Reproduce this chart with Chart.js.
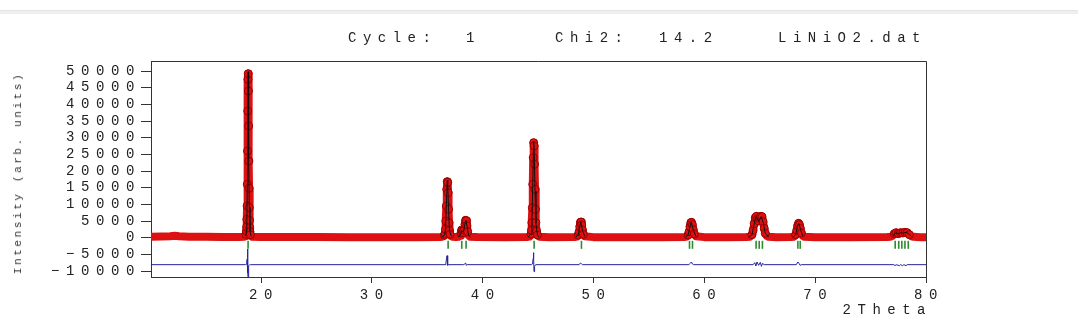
<!DOCTYPE html>
<html><head><meta charset="utf-8">
<script src="https://cdn.jsdelivr.net/npm/chart.js@4.4.1/dist/chart.umd.min.js"></script>
<style>
html,body{margin:0;padding:0;background:#fff;}
#wrap{position:relative;width:1080px;height:321px;overflow:hidden;background:#fff;}
#c{position:absolute;left:0;top:0;}
.t{position:absolute;font-family:"Liberation Mono",monospace;color:#222;white-space:pre;font-size:14px;line-height:16px;letter-spacing:6.5px;}
#bar{position:absolute;left:0;top:10px;width:1078px;height:3px;background:#efefef;border-top:1px solid #e4e4e4;}
#ytitle{position:absolute;left:18px;top:173px;transform:translate(-50%,-50%) rotate(-90deg);font-family:"Liberation Mono",monospace;font-size:11px;line-height:12px;letter-spacing:2.6px;color:#333;white-space:pre;}
</style></head><body>
<div id="wrap">
<div id="bar"></div>
<canvas id="c" width="1080" height="321"></canvas>
<div class="t" style="left:348px;top:30px">Cycle:</div>
<div class="t" style="left:466px;top:30px">1</div>
<div class="t" style="left:555px;top:30px">Chi2:</div>
<div class="t" style="left:659px;top:30px">14.2</div>
<div class="t" style="left:778px;top:30px">LiNiO2.dat</div>
<div class="t" style="right:148px;top:302px">2Theta</div>
<div id="ytitle">Intensity (arb. units)</div>
</div>
<script>
// ---- data ----
const obsTheta = [
10.07, 11.0, 11.8, 12.2, 12.6, 13.5, 15.0, 16.5, 18.0, 18.5,
18.56, 18.60, 18.64, 18.68, 18.70, 18.72, 18.74, 18.76, 18.78, 18.80, 18.82, 18.84, 18.86, 18.88, 18.90, 18.92, 18.94, 18.96, 18.98, 19.00, 19.04, 19.10, 19.20,
20.0, 22.0, 25.0, 28.0, 31.0, 34.0, 36.2,
36.40, 36.50, 36.56, 36.60, 36.64, 36.68, 36.72, 36.76, 36.80, 36.84, 36.88, 36.92, 36.96, 37.00, 37.06, 37.16, 37.30,
37.60,
37.80, 37.96, 38.04, 38.10, 38.16, 38.24, 38.32, 38.40, 38.46, 38.52, 38.58, 38.64, 38.72, 38.86,
39.5, 42.0, 44.0,
44.20, 44.30, 44.36, 44.40, 44.44, 44.48, 44.52, 44.56, 44.60, 44.64, 44.68, 44.72, 44.76, 44.80, 44.86, 44.94, 45.10,
46.0, 48.3,
48.50, 48.62, 48.70, 48.76, 48.82, 48.88, 48.94, 49.00, 49.08, 49.20,
50.0, 53.0, 56.0, 58.2,
58.40, 58.54, 58.62, 58.70, 58.78, 58.84, 58.92, 59.00, 59.10, 59.24,
60.0, 62.0, 63.8,
64.10, 64.30, 64.40, 64.50, 64.60, 64.70, 64.80, 64.90, 65.00, 65.10, 65.20, 65.30, 65.40, 65.50, 65.64, 65.80,
66.5, 67.8,
68.10, 68.24, 68.34, 68.42, 68.50, 68.58, 68.66, 68.76, 68.88, 69.04,
70.0, 73.0, 76.5,
76.80, 77.00, 77.14, 77.30, 77.50, 77.70, 77.90, 78.10, 78.30, 78.50, 78.70, 78.90,
79.5, 80.0
];
const obsInt = [
300, 350, 450, 550, 400, 300, 250, 200, 200, 250,
400, 600, 1000, 2000, 3200, 5500, 9500, 16000, 26000, 38000, 47500, 49200, 44000, 33500, 23000, 14800, 9000, 5200, 3000, 1800, 900, 450, 250,
200, 180, 170, 160, 160, 150, 200,
300, 500, 800, 1300, 2500, 5000, 9500, 14500, 16800, 16600, 13500, 8500, 4500, 2200, 1000, 450, 250,
200,
250, 600, 1400, 2300, 2000, 1500, 2200, 4000, 5200, 5100, 3600, 1800, 700, 300,
170, 160, 200,
300, 600, 1100, 2200, 4500, 9000, 16000, 24000, 28500, 27500, 22000, 14500, 8500, 4500, 2000, 800, 300,
160, 200,
300, 800, 1800, 3300, 4600, 4700, 3800, 2300, 1000, 400,
160, 150, 150, 200,
300, 800, 1800, 3300, 4500, 4600, 3900, 2400, 1100, 400,
160, 150, 200,
300, 900, 2200, 4200, 6000, 6400, 5600, 5000, 5700, 6400, 6300, 4800, 2800, 1300, 500, 250,
160, 200,
300, 900, 2200, 3600, 4300, 3900, 2800, 1400, 500, 250,
160, 150, 200,
250, 600, 1200, 1500, 1200, 1500, 1400, 1600, 1500, 900, 400, 250,
150, 150
];
const calcTheta = [
10.07, 18.4, 18.60, 18.68, 18.72, 18.76, 18.80, 18.83, 18.86, 18.90, 18.94, 19.00, 19.10, 19.3,
36.3, 36.56, 36.64, 36.72, 36.80, 36.84, 36.92, 37.00, 37.16, 37.4,
37.8, 38.04, 38.10, 38.24, 38.40, 38.48, 38.58, 38.72, 38.9,
44.1, 44.36, 44.44, 44.52, 44.60, 44.64, 44.72, 44.80, 44.94, 45.1,
48.4, 48.62, 48.76, 48.86, 49.00, 49.20, 49.4,
58.3, 58.54, 58.70, 58.82, 59.00, 59.24, 59.4,
64.0, 64.30, 64.50, 64.66, 64.90, 65.12, 65.30, 65.50, 65.80,
68.0, 68.24, 68.42, 68.52, 68.66, 68.88, 69.1,
76.8, 77.00, 77.30, 77.50, 77.70, 77.90, 78.10, 78.30, 78.70, 79.0, 80.0
];
const calcInt = [
200, 200, 500, 1900, 5200, 15500, 37500, 49800, 44500, 23500, 9200, 1900, 450, 200,
150, 800, 2600, 9800, 17200, 16300, 8200, 2100, 450, 150,
150, 1300, 2200, 1600, 4100, 5300, 3500, 700, 150,
150, 1200, 4700, 16500, 28800, 27000, 14000, 4300, 800, 150,
150, 800, 3400, 4800, 2200, 400, 150,
150, 800, 3400, 4700, 2300, 400, 150,
150, 900, 4300, 6300, 4900, 6300, 4700, 1300, 250,
150, 900, 3700, 4300, 2700, 500, 150,
150, 600, 1500, 1150, 1450, 1350, 1550, 1450, 400, 150, 150
];
const diffTheta = [
10.07, 18.60, 18.70, 18.74, 18.77, 18.80, 18.82, 18.84, 18.86, 18.90, 18.96, 19.06,
36.60, 36.68, 36.74, 36.78, 36.82, 36.86, 36.92,
38.30, 38.40, 38.46, 38.52, 38.60,
44.40, 44.50, 44.55, 44.58, 44.61, 44.63, 44.66, 44.70, 44.78,
48.70, 48.82, 48.90, 49.00,
58.60, 58.76, 58.84, 58.92, 59.02,
64.40, 64.55, 64.65, 64.75, 64.90, 65.05, 65.15, 65.25, 65.40,
68.30, 68.44, 68.54, 68.64, 68.76,
77.10, 77.20, 77.30, 77.60, 77.70, 77.90, 78.00, 78.20, 78.30, 80.0
];
const diffInt = [
-8100, -8100, -8000, -6500, -3400, -7000, -10500, -12500, -9500, -8400, -8200, -8100,
-8100, -7600, -6200, -5400, -7200, -8300, -8100,
-8100, -7800, -7600, -8300, -8100,
-8100, -7900, -6200, -4500, -6000, -10200, -9400, -8600, -8100,
-8100, -7600, -7800, -8100,
-8100, -7600, -7300, -7900, -8100,
-8100, -7500, -8500, -7300, -8300, -7400, -8600, -7700, -8100,
-8100, -7300, -7700, -8300, -8100,
-8100, -8400, -8100, -8400, -8100, -8400, -8100, -8400, -8100, -8100
];
const braggTheta = [18.83, 36.88, 38.11, 38.50, 44.64, 48.91, 58.66, 58.93, 64.67, 64.95, 65.24, 68.44, 68.65, 77.22, 77.54, 77.82, 78.10, 78.40];
const braggLevel = -2150;
const yTickValues = [-10000, -5000, 0, 5000, 10000, 15000, 20000, 25000, 30000, 35000, 40000, 45000, 50000];
const xTickValues = [20, 30, 40, 50, 60, 70, 80];

// ---- build datasets ----
const pair = (xs, ys) => xs.map((x, i) => ({x: x, y: ys[i]}));
const obsData = pair(obsTheta, obsInt);
const calcData = pair(calcTheta, calcInt);
const diffData = pair(diffTheta, diffInt);
const braggData = braggTheta.map(x => ({x: x, y: braggLevel}));

const SPACING = '6.6px';
const spacingPlugin = {
  id: 'spacing',
  beforeLayout(chart) { chart.ctx.letterSpacing = SPACING; },
  beforeDraw(chart) { chart.ctx.letterSpacing = SPACING; }
};
const framePlugin = {
  id: 'frame',
  afterDraw(chart) {
    const a = chart.chartArea, ctx = chart.ctx;
    ctx.save();
    ctx.strokeStyle = '#333';
    ctx.lineWidth = 1;
    ctx.beginPath();
    ctx.moveTo(a.left, a.top + 0.5);
    ctx.lineTo(a.right + 0.5, a.top + 0.5);
    ctx.lineTo(a.right + 0.5, a.bottom);
    ctx.stroke();
    ctx.restore();
  }
};

const monoFont = {family: '"Liberation Mono", monospace', size: 14};

new Chart(document.getElementById('c'), {
  type: 'line',
  data: {
    datasets: [
      {label: 'Calc', data: calcData, borderColor: '#111', borderWidth: 1, pointRadius: 0, tension: 0, order: 0,
       segment: {borderColor: c => (c.p0.parsed.y < 700 && c.p1.parsed.y < 700) ? 'rgba(0,0,0,0)' : '#111'}},
      {label: 'Obs', data: obsData, showLine: false, order: 1,
       pointRadius: c => (c.raw && c.raw.y > 700) ? 4 : 0,
       pointBackgroundColor: '#dd1111', pointBorderColor: '#9a0000', pointBorderWidth: 1},
      {label: 'ObsBand', data: obsData, borderColor: '#dd1111', borderWidth: 8, pointRadius: 0, tension: 0,
       borderJoinStyle: 'round', borderCapStyle: 'round', order: 2},
      {label: 'Diff', data: diffData, borderColor: '#23239c', borderWidth: 1, pointRadius: 0, tension: 0, order: 3},
      {label: 'Bragg', data: braggData, showLine: false, pointStyle: 'line', rotation: 90, pointRadius: 4,
       pointBorderColor: '#2e8b2e', pointBorderWidth: 1.6, order: 4}
    ]
  },
  options: {
    responsive: false,
    animation: false,
    events: [],
    layout: {padding: {top: 61, right: 154, left: 0, bottom: 0}},
    plugins: {legend: {display: false}, tooltip: {enabled: false}, title: {display: false}},
    scales: {
      x: {
        type: 'linear', min: 10.07, max: 80,
        afterFit(s) { s.height = 44; },
        afterBuildTicks(s) { s.ticks = xTickValues.map(v => ({value: v})); },
        grid: {drawOnChartArea: false, drawTicks: true, tickLength: 6, color: '#333'},
        border: {color: '#333', width: 1},
        ticks: {padding: 4, labelOffset: 3, color: '#222', font: monoFont, maxRotation: 0, autoSkip: false}
      },
      y: {
        type: 'linear', min: -11800, max: 53000,
        afterFit(s) { s.width = 151; },
        afterBuildTicks(s) { s.ticks = yTickValues.map(v => ({value: v})); },
        grid: {drawOnChartArea: false, drawTicks: true, tickLength: 10, color: '#333'},
        border: {color: '#333', width: 1},
        ticks: {padding: 0, color: '#222', font: monoFont, autoSkip: false,
                callback: v => String(v).replace('-', '\u2212')}
      }
    }
  },
  plugins: [spacingPlugin, framePlugin]
});
</script>
</body></html>
